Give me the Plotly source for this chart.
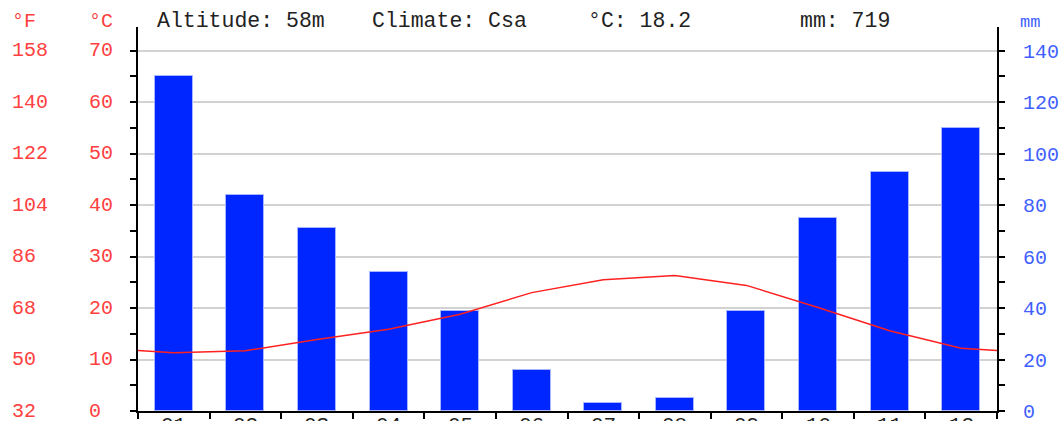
import plotly.graph_objects as go

# Monthly climate normals
months = ["01", "02", "03", "04", "05", "06", "07", "08", "09", "10", "11", "12"]
precip_mm = [130, 84, 71, 54, 39, 16, 3, 5, 39, 75, 93, 110]
temp_c = [11.3, 11.7, 13.9, 15.9, 18.8, 23.0, 25.5, 26.3, 24.4, 20.1, 15.6, 12.2]

# Left-side scale labels (°C ticks and their °F equivalents)
c_ticks = [0, 10, 20, 30, 40, 50, 60, 70]
f_ticks = [32, 50, 68, 86, 104, 122, 140, 158]

# Header information
altitude = "58m"
climate = "Csa"
mean_temp = "18.2"
total_precip = "719"

MONO = "Liberation Mono"
RED = "#ff4040"
BLUE = "#3f5fff"
C_MAX = 74.6

# Canvas geometry (pixels)
W, H = 1061, 421
ML, MR, MT, MB = 138, 64, 27, 10
PW = W - ML - MR
PH = H - MT - MB


def px_x(px):
    return (px - ML) / PW


def px_y(py):
    return (H - MB - py) / PH


x_pos = list(range(1, 13))
# temperature curve wraps to the chart edges using the Dec/Jan midpoint
edge = (temp_c[0] + temp_c[-1]) / 2
line_x = [0.5] + x_pos + [12.5]
line_y = [edge] + temp_c + [edge]

fig = go.Figure()

fig.add_trace(go.Bar(
    x=x_pos, y=precip_mm, yaxis="y", width=0.53,
    marker=dict(color="#0026ff", line=dict(color="#a8b6ff", width=1)),
    showlegend=False, hoverinfo="skip",
))

fig.add_trace(go.Scatter(
    x=line_x, y=line_y, yaxis="y2", mode="lines",
    line=dict(color="#ff2020", width=1.5),
    showlegend=False, hoverinfo="skip",
))

fig.update_layout(
    width=W, height=H,
    margin=dict(l=ML, r=MR, t=MT, b=MB, autoexpand=False),
    paper_bgcolor="white", plot_bgcolor="white",
    bargap=0,
    xaxis=dict(
        range=[0.5, 12.5], tickmode="array", tickvals=x_pos,
        ticks="", showgrid=False, zeroline=False, showticklabels=False,
        showline=True, linecolor="black", linewidth=2,
        minor=dict(tickmode="linear", tick0=0.5, dtick=1, ticks="outside",
                   ticklen=6, tickwidth=1.5, tickcolor="black", showgrid=False),
        automargin=False,
    ),
    yaxis=dict(
        range=[0, 2 * C_MAX], side="right",
        tickmode="linear", tick0=0, dtick=20,
        ticks="outside", ticklen=6, tickwidth=1.5, tickcolor="black",
        showline=True, linecolor="black", linewidth=2,
        showgrid=True, gridcolor="#d2d2d2", gridwidth=1.5,
        zeroline=False,
        tickfont=dict(family=MONO, size=20, color=BLUE),
        ticklabelstandoff=14, ticklabeloverflow="allow",
        minor=dict(tick0=0, dtick=10, ticks="outside", ticklen=6,
                   tickwidth=1.5, tickcolor="black", showgrid=False),
        automargin=False,
    ),
    yaxis2=dict(
        range=[0, C_MAX], side="left", overlaying="y",
        tickmode="linear", tick0=0, dtick=10,
        ticks="outside", ticklen=6, tickwidth=1.5, tickcolor="black",
        showline=True, linecolor="black", linewidth=2,
        showgrid=False, zeroline=False, showticklabels=False,
        minor=dict(tick0=0, dtick=5, ticks="outside", ticklen=6,
                   tickwidth=1.5, tickcolor="black", showgrid=False),
        automargin=False,
    ),
)

annotations = []
for c, f in zip(c_ticks, f_ticks):
    annotations.append(dict(
        x=px_x(87), y=c, xref="paper", yref="y2", text=str(c),
        xanchor="left", yanchor="middle", showarrow=False,
        font=dict(family=MONO, size=20, color=RED)))
    annotations.append(dict(
        x=px_x(10), y=c, xref="paper", yref="y2", text=str(f),
        xanchor="left", yanchor="middle", showarrow=False,
        font=dict(family=MONO, size=20, color=RED)))

# month labels sit just under the baseline
for xm, label in zip(x_pos, months):
    annotations.append(dict(
        x=xm, y=px_y(412), xref="x", yref="paper", text=label,
        xanchor="center", yanchor="top", showarrow=False,
        font=dict(family=MONO, size=21, color="#222")))

header = [
    (10, "°F", RED, 20),
    (87, "°C", RED, 20),
    (155, f"Altitude: {altitude}", "#222", 21.5),
    (370, f"Climate: {climate}", "#222", 21.5),
    (586, f"°C: {mean_temp}", "#222", 21.5),
    (798, f"mm: {total_precip}", "#222", 21.5),
]
for px, txt, col, size in header:
    annotations.append(dict(
        x=px_x(px), y=px_y(21), xref="paper", yref="paper", text=txt,
        xanchor="left", yanchor="middle", showarrow=False,
        font=dict(family=MONO, size=size, color=col)))

annotations.append(dict(
    x=px_x(1018), y=px_y(22), xref="paper", yref="paper", text="mm",
    xanchor="left", yanchor="middle", showarrow=False,
    font=dict(family=MONO, size=17, color=BLUE)))

fig.update_layout(annotations=annotations)

fig.write_html("out.html")
